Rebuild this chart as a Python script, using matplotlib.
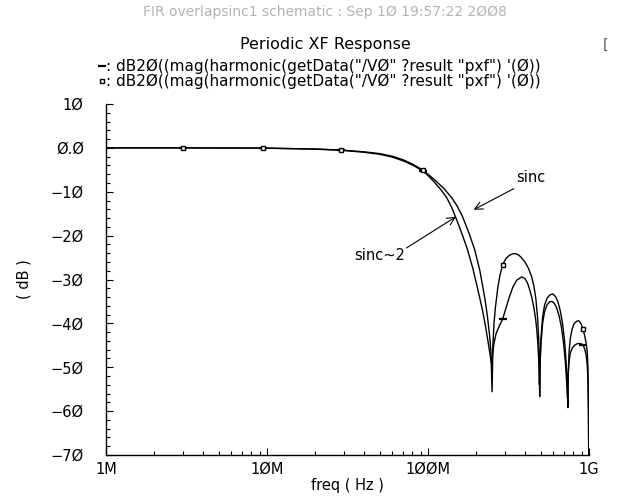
import numpy as np
import matplotlib
matplotlib.use("Agg")
import matplotlib.pyplot as plt
from matplotlib.lines import Line2D
from matplotlib.ticker import FixedLocator, NullFormatter, MultipleLocator

# sinc response (upper curve, square markers)
f_sinc = [1e6, 3e6, 9.4e6, 20e6, 29e6, 40e6, 50e6, 60e6, 70e6, 80e6, 92.5e6,
          100e6, 110e6, 125e6, 140e6, 152e6, 164e6, 180e6, 195e6, 210e6, 219e6,
          227e6, 234e6, 241e6, 246e6, 250e6,
          253e6, 257e6, 262e6, 271e6, 280e6, 291e6, 305e6, 320e6, 335e6, 350e6,
          365e6, 380e6, 400e6, 420e6, 440e6, 455e6, 468e6, 480e6, 487e6, 491e6,
          494e6,
          497e6, 503e6, 515e6, 530e6, 550e6, 572e6, 596e6, 620e6, 640e6, 662e6,
          685e6, 705e6, 720e6, 732e6, 739e6,
          744e6, 752e6, 765e6, 785e6, 810e6, 840e6, 865e6, 890e6, 916e6, 940e6,
          960e6, 975e6, 985e6, 992e6, 1e9]
db_sinc = [0.0, 0.0, -0.05, -0.25, -0.5, -0.9, -1.3, -1.9, -2.7, -3.7, -5.0,
           -6.0, -7.3, -9.2, -11.3, -13.3, -15.7, -19.5, -23.2, -28.0, -31.7,
           -35.0, -38.5, -42.5, -46.5, -55.6,
           -45.0, -40.0, -36.5, -32.0, -29.0, -26.6, -25.2, -24.5, -24.15, -24.1,
           -24.4, -25.0, -26.0, -27.4, -29.3, -31.5, -34.5, -39.0, -43.5, -48.0,
           -56.7,
           -49.0, -43.5, -38.5, -35.8, -34.2, -33.5, -33.3, -33.9, -35.0, -37.0,
           -40.0, -44.0, -48.5, -53.5, -59.2,
           -51.0, -46.5, -43.5, -41.3, -40.0, -39.5, -39.4, -40.0, -41.2, -42.8,
           -44.5, -46.5, -50.0, -58.0, -80.0]

# sinc^2 response (lower curve, dash markers)
f_sinc2 = [1e6, 3e6, 9.4e6, 20e6, 29e6, 40e6, 50e6, 60e6, 70e6, 80e6, 92.5e6,
           100e6, 110e6, 120e6, 130e6, 140e6, 150e6, 163e6, 176e6, 190e6, 204e6,
           218e6, 228e6, 238e6, 245e6, 249e6,
           252e6, 257e6, 265e6, 278e6, 291e6, 305e6, 320e6, 336e6, 355e6, 382e6,
           400e6, 415e6, 428e6, 442e6, 455e6, 466e6, 474e6, 482e6, 488e6, 492e6,
           496e6, 502e6, 515e6, 530e6, 550e6, 570e6, 588e6, 608e6, 630e6, 652e6,
           675e6, 695e6, 712e6, 727e6, 736e6,
           742e6, 750e6, 765e6, 790e6, 820e6, 850e6, 877e6, 900e6, 916e6, 940e6,
           960e6, 975e6, 985e6, 992e6, 1e9]
db_sinc2 = [0.0, 0.0, -0.05, -0.3, -0.55, -1.0, -1.45, -2.1, -2.95, -3.9, -5.2,
            -6.3, -7.9, -9.5, -11.2, -13.5, -16.2, -19.7, -23.2, -27.5, -32.3,
            -37.0, -40.8, -45.0, -48.0, -49.5,
            -47.0, -44.5, -42.3, -40.5, -39.0, -36.5, -34.0, -31.8, -30.2, -29.4,
            -29.8, -30.8, -32.3, -34.2, -36.5, -39.0, -41.5, -45.0, -49.0, -54.0,
            -49.5, -45.0, -40.0, -37.3, -35.7, -35.1, -35.0, -35.4, -36.5, -38.3,
            -41.0, -44.5, -48.5, -53.5, -57.0,
            -52.0, -49.0, -46.8, -45.5, -44.9, -44.6, -44.6, -44.7, -44.9, -45.8,
            -47.2, -49.5, -53.0, -60.0, -80.0]

marker_f = [3e6, 9.4e6, 29e6, 92.5e6, 291e6, 916e6]

xticks = [1e6, 1e7, 1e8, 1e9]
xticklabels = ["1M", "1ØM", "1ØØM", "1G"]
yticks = [-70, -60, -50, -40, -30, -20, -10, 0, 10]
yticklabels = ["−7Ø", "−6Ø", "−5Ø", "−4Ø", "−3Ø", "−2Ø", "−1Ø", "Ø.Ø", "1Ø"]

trace_expr = "dB2Ø((mag(harmonic(getData(\"/VØ\" ?result \"pxf\") '(Ø))"

plt.rcParams["font.family"] = "DejaVu Sans"

W, H = 630, 498
fig = plt.figure(figsize=(W / 100, H / 100), dpi=100)
ax = fig.add_axes([106 / W, 43 / H, 483 / W, 351 / H])

idx1 = [f_sinc.index(m) for m in marker_f]
idx2 = [f_sinc2.index(m) for m in marker_f]
ax.plot(f_sinc2, db_sinc2, color="black", lw=1.0, marker="_", ms=6, mew=1.6,
        markevery=idx2)
ax.plot(f_sinc, db_sinc, color="black", lw=1.0, marker="s", ms=3.5, mfc="white",
        mew=1.0, markevery=idx1)

ax.set_xscale("log")
ax.set_xlim(1e6, 1e9)
ax.set_ylim(-70, 10)
ax.xaxis.set_major_locator(FixedLocator(xticks))
ax.set_xticklabels(xticklabels)
ax.xaxis.set_minor_locator(FixedLocator(
    [m * 10 ** e for e in range(6, 9) for m in range(2, 10)]))
ax.xaxis.set_minor_formatter(NullFormatter())
ax.set_yticks(yticks)
ax.set_yticklabels(yticklabels)
ax.yaxis.set_minor_locator(MultipleLocator(2))

for s in ["top", "right"]:
    ax.spines[s].set_visible(False)
for s in ["left", "bottom"]:
    ax.spines[s].set_linewidth(1.0)
ax.tick_params(which="major", direction="in", length=5, width=0.8, labelsize=10.5, pad=5)
ax.tick_params(which="minor", direction="in", length=3, width=0.8)
ax.tick_params(axis="y", pad=16)

ax.set_xlabel("freq ( Hz )", fontsize=10.5, labelpad=1)
ax.set_ylabel("( dB )", fontsize=10.5, labelpad=14)

# annotations
arrow = dict(arrowstyle="->", color="black", lw=0.8, shrinkA=0, shrinkB=0,
             mutation_scale=14)
ax.annotate("", xy=(192e6, -14.1), xytext=(341e6, -9.3), arrowprops=arrow)
ax.text(351e6, -6.8, "sinc", fontsize=10.5, ha="left", va="center")
ax.annotate("", xy=(149e6, -15.7), xytext=(73.6e6, -22.8), arrowprops=arrow)
ax.text(72e6, -24.6, "sinc~2", fontsize=10.5, ha="right", va="center")

# header texts
fig.text(325 / W, 1 - 12 / H, "FIR overlapsinc1 schematic : Sep 1Ø 19:57:22 2ØØ8",
         ha="center", va="center", fontsize=10, color="#b4b4b4")
fig.text(325 / W, 1 - 45 / H, "Periodic XF Response", ha="center", va="center",
         fontsize=11.5)
fig.text(605 / W, 1 - 45 / H, "[", ha="center", va="center", fontsize=10,
         color="#555555")

fig.add_artist(Line2D([102 / W], [1 - 66 / H], marker="_", ms=6, mew=1.6,
                      color="black", transform=fig.transFigure))
fig.add_artist(Line2D([102 / W], [1 - 81 / H], marker="s", ms=3.5, mfc="white",
                      mew=1.0, color="black", transform=fig.transFigure))
fig.text(106 / W, 1 - 66 / H, ": " + trace_expr, ha="left", va="center", fontsize=11)
fig.text(106 / W, 1 - 81 / H, ": " + trace_expr, ha="left", va="center", fontsize=11)

fig.savefig("out.png", dpi=100)
